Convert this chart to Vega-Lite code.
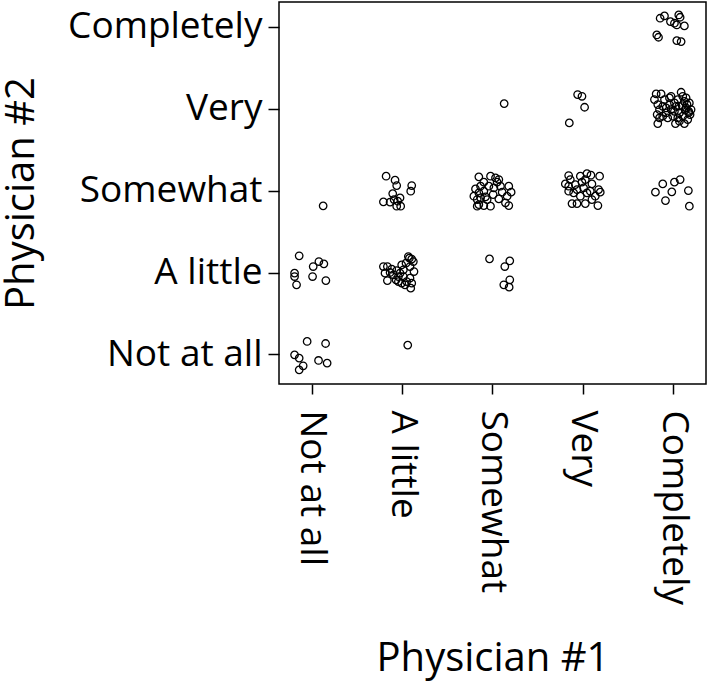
{
  "$schema": "https://vega.github.io/schema/vega-lite/v6.json",
  "width": 427,
  "height": 382,
  "autosize": "none",
  "padding": {"left": 279, "top": 2, "right": 3, "bottom": 298},
  "background": "white",
  "config": {
    "view": {"stroke": "black", "strokeWidth": 1.5},
    "font": "Open Sans"
  },
  "data": {
    "values": [
      {"x":0.863,"y":2.204},{"x":1.081,"y":2.134},{"x":1.136,"y":2.106},{"x":1.018,"y":2.073},{"x":0.812,"y":1.993},{"x":0.812,"y":1.951},{"x":1.011,"y":1.951},{"x":0.834,"y":1.850},{"x":1.158,"y":1.902},
      {"x":0.951,"y":1.159},{"x":1.155,"y":1.134},{"x":0.812,"y":0.996},{"x":0.863,"y":0.956},{"x":0.907,"y":0.862},{"x":0.863,"y":0.813},{"x":1.077,"y":0.927},{"x":1.172,"y":0.895},
      {"x":1.128,"y":2.813},
      {"x":2.063,"y":1.115},
      {"x":1.794,"y":2.073},{"x":1.838,"y":2.073},{"x":1.886,"y":2.041},{"x":1.812,"y":1.992},{"x":1.868,"y":2.0},{"x":1.838,"y":1.902},{"x":1.941,"y":2.024},{"x":1.960,"y":1.890},{"x":1.996,"y":2.093},{"x":2.015,"y":2.033},{"x":2.044,"y":2.114},{"x":2.081,"y":2.175},{"x":2.107,"y":2.163},{"x":2.125,"y":2.134},{"x":2.132,"y":2.012},{"x":2.088,"y":1.931},{"x":2.107,"y":1.870},{"x":2.096,"y":1.809},{"x":2.051,"y":1.890},{"x":2.015,"y":1.951},{"x":1.960,"y":1.951},{"x":1.934,"y":1.911},{"x":1.904,"y":1.972},{"x":1.996,"y":1.870},{"x":2.070,"y":2.195},{"x":2.033,"y":1.850},{"x":1.978,"y":1.992},{"x":2.088,"y":2.073},
      {"x":1.824,"y":3.175},{"x":1.923,"y":3.126},{"x":1.941,"y":3.061},{"x":2.107,"y":3.061},{"x":2.096,"y":2.992},{"x":1.897,"y":2.963},{"x":1.794,"y":2.862},{"x":1.868,"y":2.858},{"x":1.941,"y":2.809},{"x":1.985,"y":2.809},{"x":1.978,"y":2.911},{"x":1.952,"y":2.870},{"x":1.912,"y":2.890},
      {"x":2.967,"y":2.167},{"x":3.191,"y":2.142},{"x":3.136,"y":2.073},{"x":3.191,"y":1.911},{"x":3.125,"y":1.850},{"x":3.184,"y":1.821},
      {"x":3.129,"y":4.061},
      {"x":2.849,"y":3.167},{"x":2.978,"y":3.175},{"x":3.033,"y":3.154},{"x":3.070,"y":3.134},{"x":2.904,"y":3.102},{"x":2.812,"y":3.020},{"x":2.849,"y":2.972},{"x":2.794,"y":2.931},{"x":2.831,"y":2.890},{"x":2.868,"y":2.911},{"x":2.849,"y":2.829},{"x":2.904,"y":2.817},{"x":2.978,"y":2.809},{"x":2.960,"y":3.053},{"x":3.015,"y":3.033},{"x":3.088,"y":3.053},{"x":3.180,"y":3.053},{"x":3.206,"y":2.980},{"x":3.162,"y":2.931},{"x":3.143,"y":2.850},{"x":3.180,"y":2.817},{"x":3.070,"y":2.898},{"x":3.007,"y":2.951},{"x":2.941,"y":2.890},{"x":2.904,"y":2.992},{"x":3.107,"y":2.980},{"x":3.051,"y":3.102},{"x":2.868,"y":3.053},{"x":2.923,"y":2.923},{"x":2.831,"y":2.809},
      {"x":3.842,"y":3.183},{"x":3.971,"y":3.175},{"x":4.044,"y":3.207},{"x":4.088,"y":3.187},{"x":4.184,"y":3.175},{"x":3.805,"y":3.081},{"x":3.842,"y":3.053},{"x":3.915,"y":3.073},{"x":3.989,"y":3.102},{"x":4.099,"y":3.081},{"x":4.173,"y":3.012},{"x":4.191,"y":2.980},{"x":3.879,"y":2.841},{"x":3.934,"y":2.841},{"x":4.026,"y":2.841},{"x":4.099,"y":2.890},{"x":4.165,"y":2.817},{"x":3.971,"y":2.931},{"x":3.897,"y":2.972},{"x":4.044,"y":2.972},{"x":3.934,"y":3.012},{"x":4.007,"y":3.033},{"x":4.081,"y":2.992},{"x":3.842,"y":2.992},{"x":4.136,"y":2.931},{"x":4.026,"y":3.134},{"x":3.860,"y":3.134},
      {"x":3.941,"y":4.171},{"x":3.989,"y":4.150},{"x":4.018,"y":4.016},{"x":3.849,"y":3.825},
      {"x":4.801,"y":2.980},{"x":4.882,"y":3.081},{"x":5.011,"y":3.102},{"x":5.074,"y":3.134},{"x":4.982,"y":2.984},{"x":4.912,"y":2.878},{"x":5.165,"y":3.0},{"x":5.176,"y":2.809},
      {"x":4.853,"y":5.102},{"x":4.901,"y":5.130},{"x":4.967,"y":5.061},{"x":5.037,"y":5.020},{"x":5.059,"y":5.142},{"x":5.074,"y":5.114},{"x":5.121,"y":5.008},{"x":4.816,"y":4.898},{"x":4.835,"y":4.870},{"x":5.037,"y":4.829},{"x":5.085,"y":4.817},{"x":5.011,"y":5.041},
      {"x":4.809,"y":4.179},{"x":4.864,"y":4.179},{"x":5.085,"y":4.199},{"x":5.103,"y":4.150},{"x":4.956,"y":4.130},{"x":4.827,"y":4.049},{"x":4.820,"y":3.927},{"x":4.827,"y":3.817},{"x":4.882,"y":4.028},{"x":4.919,"y":3.947},{"x":4.974,"y":3.988},{"x":5.011,"y":4.069},{"x":5.048,"y":4.110},{"x":5.121,"y":4.089},{"x":5.176,"y":4.069},{"x":5.195,"y":3.988},{"x":5.184,"y":3.927},{"x":5.158,"y":3.866},{"x":5.121,"y":3.817},{"x":5.022,"y":3.817},{"x":5.048,"y":3.886},{"x":5.066,"y":3.947},{"x":5.140,"y":4.008},{"x":5.096,"y":4.037},{"x":4.993,"y":3.907},{"x":4.937,"y":3.886},{"x":4.882,"y":3.907},{"x":4.846,"y":3.988},{"x":4.790,"y":4.110},{"x":4.901,"y":4.110},{"x":5.011,"y":3.967},{"x":4.956,"y":4.049},{"x":5.103,"y":3.907},{"x":5.169,"y":3.967},{"x":5.066,"y":3.846},{"x":4.974,"y":4.150},{"x":5.140,"y":4.130},{"x":4.846,"y":3.886},{"x":5.029,"y":4.028},{"x":4.919,"y":4.008},{"x":5.150,"y":4.050},{"x":5.170,"y":3.950},{"x":5.130,"y":3.980},{"x":5.060,"y":4.030}
    ]
  },
  "mark": {"type": "point", "shape": "circle", "filled": false, "stroke": "black", "strokeWidth": 1.3, "size": 56, "opacity": 1},
  "encoding": {
    "x": {
      "field": "x", "type": "quantitative",
      "scale": {"domain": [0.64, 5.36], "nice": false, "zero": false},
      "axis": {
        "title": "Physician #1",
        "values": [1, 2, 3, 4, 5],
        "labelExpr": "['', 'Not at all', 'A little', 'Somewhat', 'Very', 'Completely'][datum.value]",
        "labelAngle": 90, "labelAlign": "left", "labelBaseline": "middle",
        "labelFontSize": 37, "labelColor": "black", "labelPadding": 16, "labelFont": "Open Sans",
        "labelLimit": 400,
        "tickSize": 10, "tickColor": "black", "tickWidth": 1.5,
        "domain": false, "grid": false,
        "titleFontSize": 40, "titleFontWeight": "normal", "titleColor": "black", "titleFont": "Open Sans",
        "titleX": 213.5, "titleY": 286, "titleBaseline": "alphabetic", "titleAlign": "center",
        "labelOverlap": false
      }
    },
    "y": {
      "field": "y", "type": "quantitative",
      "scale": {"domain": [0.64, 5.30], "nice": false, "zero": false},
      "axis": {
        "title": "Physician #2",
        "values": [1, 2, 3, 4, 5],
        "labelExpr": "['', 'Not at all', 'A little', 'Somewhat', 'Very', 'Completely'][datum.value]",
        "labelFontSize": 37, "labelColor": "black", "labelPadding": 6, "labelFont": "Open Sans",
        "labelLimit": 400,
        "labelBaseline": "middle",
        "tickSize": 11, "tickColor": "black", "tickWidth": 1.5,
        "domain": false, "grid": false,
        "titleFontSize": 40, "titleFontWeight": "normal", "titleColor": "black", "titleFont": "Open Sans",
        "titleAngle": -90, "titleX": -246, "titleY": 191, "titleBaseline": "alphabetic", "titleAlign": "center",
        "labelOverlap": false
      }
    }
  }
}
